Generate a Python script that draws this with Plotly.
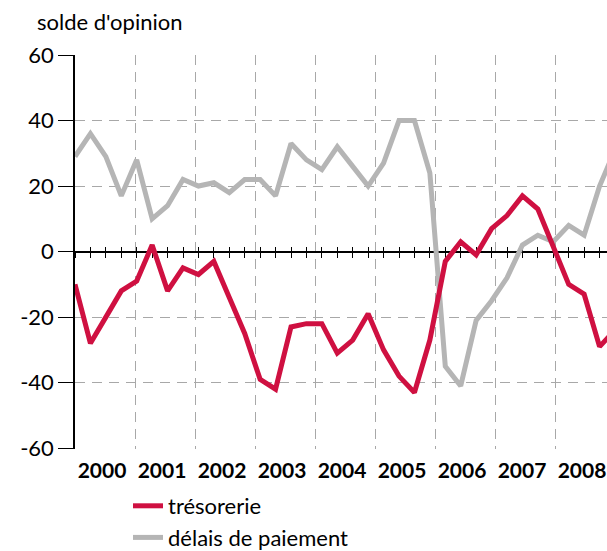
import plotly.graph_objects as go

# Quarterly balance of opinion, 2000 Q1 .. 2008 Q4
years = [2000, 2001, 2002, 2003, 2004, 2005, 2006, 2007, 2008]
year_labels = [str(y) for y in years]

tresorerie = [-10, -28, -20, -12, -9, 2, -12, -5, -7, -3, -14, -25,
              -39, -42, -23, -22, -22, -31, -27, -19, -30, -38, -43, -27,
              -3, 3, -1, 7, 11, 17, 13, 1, -10, -13, -29, -24]
delais = [29, 36, 29, 17, 28, 10, 14, 22, 20, 21, 18, 22,
          22, 17, 33, 28, 25, 32, 26, 20, 27, 40, 40, 24,
          -35, -41, -21, -15, -8, 2, 5, 3, 8, 5, 20, 31]

y_ticks = [-60, -40, -20, 0, 20, 40, 60]

n = len(tresorerie)
span = len(years)
xpos = [years[0] + i * span / (n - 1) for i in range(n)]

W, H = 607, 551
L, T = 75, 55
PH = 394
B = H - T - PH
plot_w = W - L
x_end = years[0] + span * plot_w / 540.0
xr = [years[0], x_end]

FONT = "Lato"
RED = "#cf1041"
GRAY = "#b5b5b5"
GRID = "#a8a8a8"

fig = go.Figure()
fig.add_trace(go.Scatter(x=xpos, y=delais, mode="lines", name="délais de paiement",
                         line=dict(color=GRAY, width=5), legendgroup="b", legendrank=2))
fig.add_trace(go.Scatter(x=xpos, y=tresorerie, mode="lines", name="trésorerie",
                         line=dict(color=RED, width=5), legendgroup="a", legendrank=1))

fig.update_layout(
    width=W, height=H,
    margin=dict(l=L, r=0, t=T, b=B, autoexpand=False),
    paper_bgcolor="white", plot_bgcolor="white",
    font=dict(family=FONT, color="black", size=21),
    xaxis=dict(
        range=xr, showgrid=False, zeroline=False, showline=False,
        tickvals=[y + 0.45 for y in years], ticktext=year_labels, ticks="",
        tickfont=dict(family=FONT, size=21, weight="bold"),
        ticklabelstandoff=7, ticklabeloverflow="allow", tickangle=0,
        minor=dict(tickvals=years[1:], showgrid=True, gridcolor=GRID,
                   griddash="10px,7px", gridwidth=1, ticks=""),
    ),
    xaxis2=dict(
        range=xr, overlaying="x", anchor="free", position=0.5, layer="below traces",
        showline=True, linecolor="black", linewidth=1.5,
        tickvals=xpos, ticks="outside", ticklen=5, tickwidth=1.2, tickcolor="black",
        showticklabels=False, showgrid=False, zeroline=False,
    ),
    xaxis3=dict(
        range=xr, overlaying="x", anchor="free", position=0.5, layer="below traces",
        showline=False,
        tickvals=xpos, ticks="inside", ticklen=5, tickwidth=1.2, tickcolor="black",
        showticklabels=False, showgrid=False, zeroline=False,
    ),
    yaxis=dict(
        range=[-60.25, 60], tickvals=y_ticks, ticktext=[str(v) for v in y_ticks],
        ticks="outside", ticklen=15, tickwidth=1.2, tickcolor="black",
        showline=True, linecolor="black", linewidth=1.5,
        showgrid=True, gridcolor=GRID, griddash="10px,7px", gridwidth=1,
        zeroline=False, tickfont=dict(size=22),
    ),
    legend=dict(x=(128 - L) / plot_w, y=-(485 - 449) / PH, xanchor="left", yanchor="top",
                traceorder="grouped", tracegroupgap=0,
                font=dict(size=22), bgcolor="rgba(0,0,0,0)"),
    annotations=[dict(text="solde d'opinion", xref="paper", yref="paper",
                      x=-(L - 35) / plot_w, y=1 + 33 / PH, xanchor="left", yanchor="middle",
                      showarrow=False, font=dict(size=22))],
)
# invisible anchors so overlaying axes render
fig.add_trace(go.Scatter(x=[xr[0]], y=[0], xaxis="x2", mode="markers", marker=dict(opacity=0),
                         showlegend=False, hoverinfo="skip"))
fig.add_trace(go.Scatter(x=[xr[0]], y=[0], xaxis="x3", mode="markers", marker=dict(opacity=0),
                         showlegend=False, hoverinfo="skip"))

fig.write_html("out.html", config={"displayModeBar": False},
               post_script="document.body.style.margin='0';document.body.style.overflow='hidden';")
